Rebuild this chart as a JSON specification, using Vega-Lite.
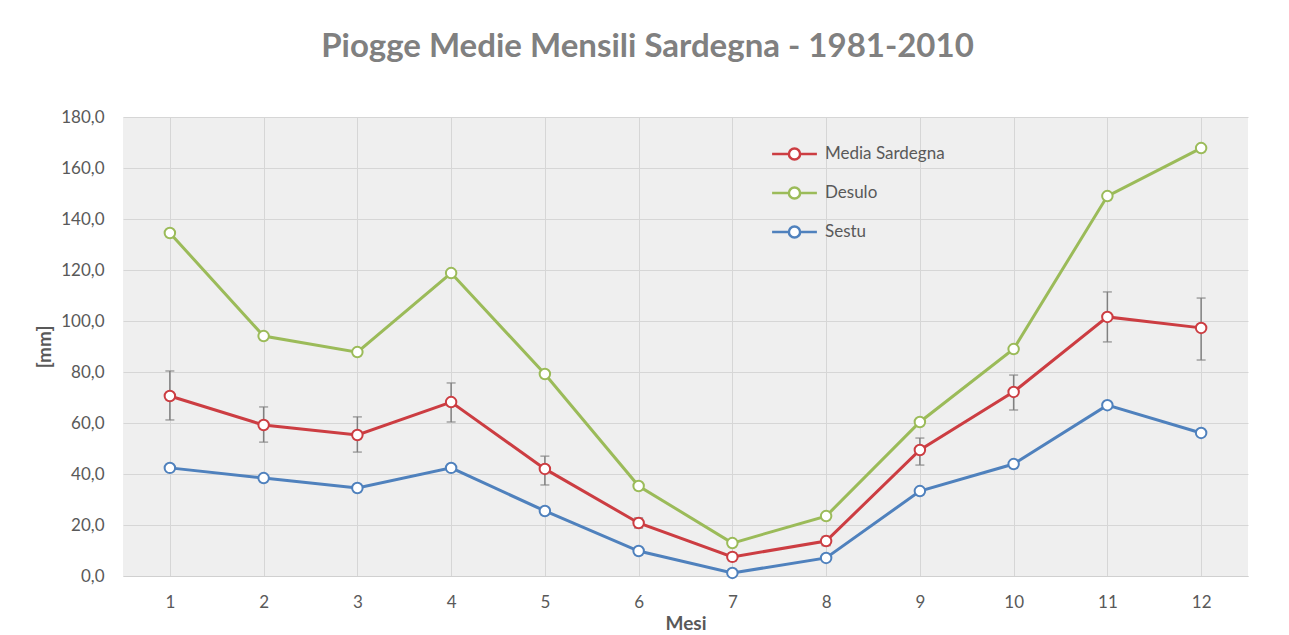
{
  "$schema": "https://vega.github.io/schema/vega-lite/v6.json",
  "autosize": {"type": "none"},
  "padding": {"left": 123, "top": 117, "right": 41, "bottom": 59},
  "width": 1125,
  "height": 459,
  "background": "white",
  "title": {
    "text": "Piogge Medie Mensili Sardegna - 1981-2010",
    "anchor": "middle",
    "frame": "group",
    "dx": -38,
    "offset": 18,
    "baseline": "alphabetic",
    "font": "Lato",
    "fontSize": 33,
    "fontWeight": "bold",
    "color": "#808080"
  },
  "config": {
    "font": "Lato",
    "view": {"fill": "#efefef", "stroke": null},
    "axis": {
      "labelFont": "Lato",
      "labelColor": "#595959",
      "labelFontSize": 17,
      "titleFont": "Lato",
      "titleColor": "#595959",
      "titleFontSize": 19,
      "titleFontWeight": "bold",
      "gridColor": "#d6d6d6",
      "gridWidth": 1,
      "ticks": false,
      "tickSize": 0
    },
    "legend": {
      "orient": "none",
      "legendX": 654,
      "legendY": 19.5,
      "padding": 0,
      "title": null,
      "labelFont": "Lato",
      "labelFontSize": 17,
      "labelColor": "#595959",
      "labelOffset": 13,
      "rowPadding": 10,
      "symbolType": "M-1.4,0H-0.35M0.35,0H1.4M0.35,0A0.35,0.35,0,1,1,-0.35,0A0.35,0.35,0,1,1,0.35,0Z",
      "symbolSize": 1024,
      "symbolStrokeWidth": 2.5,
      "symbolFillColor": "white"
    }
  },
  "datasets": {
    "serie": [
      {"mese": 1, "serie": "Media Sardegna", "valore": 70.6},
      {"mese": 2, "serie": "Media Sardegna", "valore": 59.2},
      {"mese": 3, "serie": "Media Sardegna", "valore": 55.3},
      {"mese": 4, "serie": "Media Sardegna", "valore": 68.2},
      {"mese": 5, "serie": "Media Sardegna", "valore": 42.0},
      {"mese": 6, "serie": "Media Sardegna", "valore": 20.8},
      {"mese": 7, "serie": "Media Sardegna", "valore": 7.5},
      {"mese": 8, "serie": "Media Sardegna", "valore": 13.7},
      {"mese": 9, "serie": "Media Sardegna", "valore": 49.4},
      {"mese": 10, "serie": "Media Sardegna", "valore": 72.2},
      {"mese": 11, "serie": "Media Sardegna", "valore": 101.6},
      {"mese": 12, "serie": "Media Sardegna", "valore": 97.3},
      {"mese": 1, "serie": "Desulo", "valore": 134.5},
      {"mese": 2, "serie": "Desulo", "valore": 94.1},
      {"mese": 3, "serie": "Desulo", "valore": 87.8},
      {"mese": 4, "serie": "Desulo", "valore": 118.8},
      {"mese": 5, "serie": "Desulo", "valore": 79.2},
      {"mese": 6, "serie": "Desulo", "valore": 35.3},
      {"mese": 7, "serie": "Desulo", "valore": 12.9},
      {"mese": 8, "serie": "Desulo", "valore": 23.5},
      {"mese": 9, "serie": "Desulo", "valore": 60.4},
      {"mese": 10, "serie": "Desulo", "valore": 89.0},
      {"mese": 11, "serie": "Desulo", "valore": 149.0},
      {"mese": 12, "serie": "Desulo", "valore": 167.8},
      {"mese": 1, "serie": "Sestu", "valore": 42.4},
      {"mese": 2, "serie": "Sestu", "valore": 38.4},
      {"mese": 3, "serie": "Sestu", "valore": 34.5},
      {"mese": 4, "serie": "Sestu", "valore": 42.4},
      {"mese": 5, "serie": "Sestu", "valore": 25.5},
      {"mese": 6, "serie": "Sestu", "valore": 9.8},
      {"mese": 7, "serie": "Sestu", "valore": 1.2},
      {"mese": 8, "serie": "Sestu", "valore": 7.1},
      {"mese": 9, "serie": "Sestu", "valore": 33.3},
      {"mese": 10, "serie": "Sestu", "valore": 43.9},
      {"mese": 11, "serie": "Sestu", "valore": 67.0},
      {"mese": 12, "serie": "Sestu", "valore": 56.1}
    ],
    "errori": [
      {"mese": 1, "lo": 61.2, "hi": 80.4},
      {"mese": 2, "lo": 52.5, "hi": 66.3},
      {"mese": 3, "lo": 48.6, "hi": 62.4},
      {"mese": 4, "lo": 60.4, "hi": 75.7},
      {"mese": 5, "lo": 35.7, "hi": 47.0},
      {"mese": 6, "lo": 18.8, "hi": 22.8},
      {"mese": 7, "lo": 6.0, "hi": 9.0},
      {"mese": 8, "lo": 11.9, "hi": 15.5},
      {"mese": 9, "lo": 43.5, "hi": 54.1},
      {"mese": 10, "lo": 65.1, "hi": 78.8},
      {"mese": 11, "lo": 91.8, "hi": 111.4},
      {"mese": 12, "lo": 84.7, "hi": 109.0}
    ]
  },
  "encoding": {
    "x": {
      "field": "mese",
      "type": "ordinal",
      "scale": {"type": "point", "padding": 0.5},
      "axis": {
        "title": "Mesi",
        "labelAngle": 0,
        "labelPadding": 18,
        "titlePadding": 4,
        "grid": true,
        "domain": true,
        "domainColor": "#d0d0d0"
      }
    }
  },
  "layer": [
    {
      "data": {"name": "errori"},
      "mark": {"type": "rule", "color": "#808080", "strokeWidth": 1.5},
      "encoding": {
        "y": {"field": "lo", "type": "quantitative", "scale": {"domain": [0, 180]},
          "axis": {"title": "[mm]", "values": [0, 20, 40, 60, 80, 100, 120, 140, 160, 180], "labelExpr": "replace(format(datum.value, '.1f'), '.', ',')", "labelPadding": 19, "titlePadding": 6, "domain": false, "grid": true}},
        "y2": {"field": "hi"}
      }
    },
    {
      "data": {"name": "errori"},
      "mark": {"type": "tick", "color": "#808080", "thickness": 1.5, "size": 9},
      "encoding": {"y": {"field": "lo", "type": "quantitative", "axis": {"title": "[mm]"}}}
    },
    {
      "data": {"name": "errori"},
      "mark": {"type": "tick", "color": "#808080", "thickness": 1.5, "size": 9},
      "encoding": {"y": {"field": "hi", "type": "quantitative", "axis": {"title": "[mm]"}}}
    },
    {
      "data": {"name": "serie"},
      "mark": {"type": "line", "strokeWidth": 3},
      "encoding": {
        "y": {"field": "valore", "type": "quantitative", "axis": {"title": "[mm]"}},
        "color": {"field": "serie", "type": "nominal",
          "scale": {"domain": ["Media Sardegna", "Desulo", "Sestu"], "range": ["#cc3d42", "#9bbb59", "#4f81bd"]}}
      }
    },
    {
      "data": {"name": "serie"},
      "mark": {"type": "point", "shape": "circle", "filled": false, "fill": "white", "fillOpacity": 1, "opacity": 1, "size": 110, "strokeWidth": 2},
      "encoding": {
        "y": {"field": "valore", "type": "quantitative", "axis": {"title": "[mm]"}},
        "color": {"field": "serie", "type": "nominal"}
      }
    }
  ]
}
